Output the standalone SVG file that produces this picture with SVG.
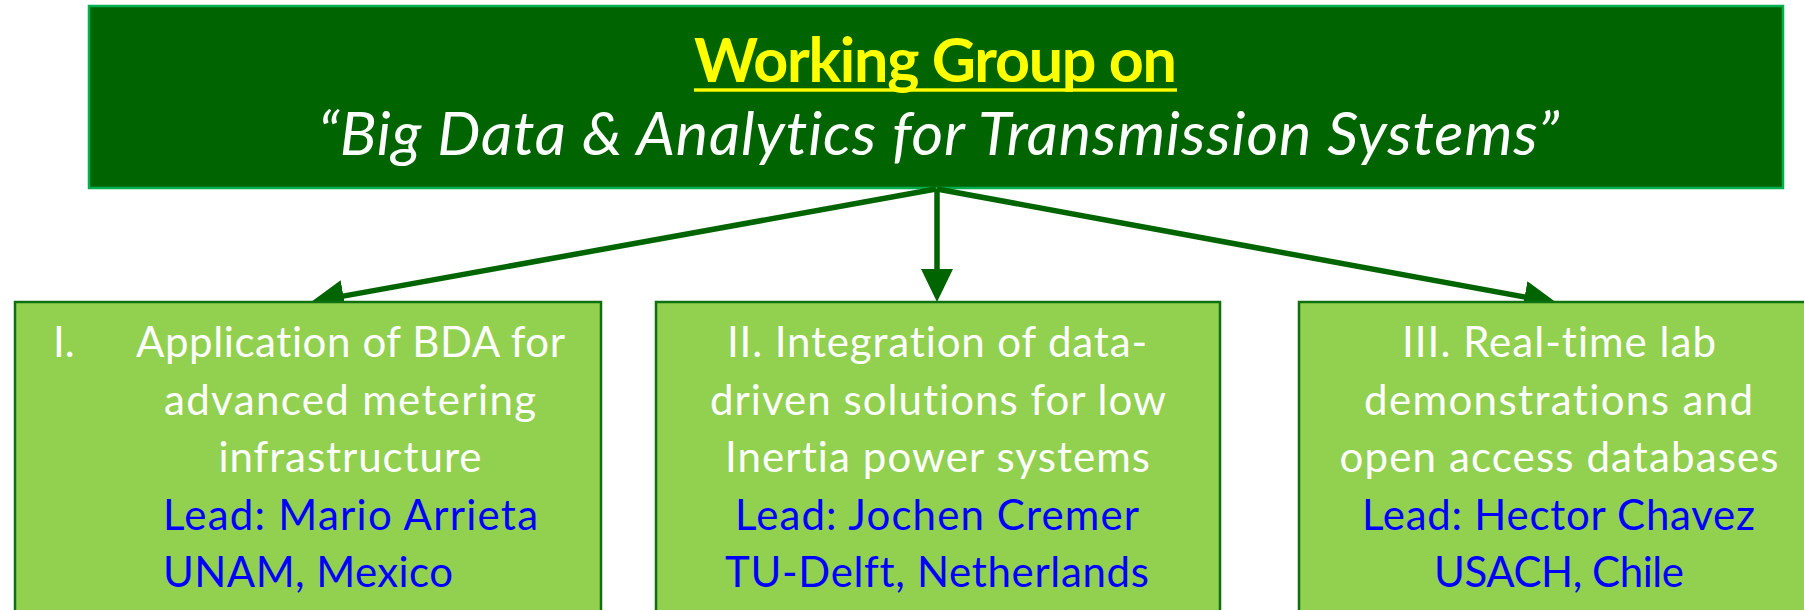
<svg xmlns="http://www.w3.org/2000/svg" width="1804" height="610" viewBox="0 0 1804 610">
  <style>
    text { font-variant-ligatures: none; font-feature-settings: "liga" 0, "clig" 0; }
    .top { fill: #006400; stroke: #00B050; stroke-width: 2.5; }
    .box { fill: #92D050; stroke: #0E700E; stroke-width: 2.5; }
    .title { font-family: Lato, "Liberation Sans", sans-serif; font-weight: bold; font-size: 61px; fill: #FFFF00; }
    .sub { font-family: Lato, "Liberation Sans", sans-serif; font-style: italic; font-size: 61px; fill: #FFFFFF; }
    .w { font-family: Lato, "Liberation Sans", sans-serif; font-size: 42px; fill: #FFFFFF; }
    .b { font-family: Lato, "Liberation Sans", sans-serif; font-size: 42px; fill: #0000FF; }
    .conn { stroke: #006400; stroke-width: 5.5; fill: none; }
  </style>
  <defs>
    <marker id="arrow" markerUnits="userSpaceOnUse" markerWidth="34" markerHeight="34" refX="13" refY="16" orient="auto">
      <path d="M0,0 L33,16 L0,32 Z" fill="#006400"/>
    </marker>
  </defs>

  <g id="node-top">
    <rect class="top" x="89" y="6" width="1694" height="182"/>
    <text class="title" x="935.5" y="82" text-anchor="middle" textLength="483">Working Group on</text>
    <rect x="694" y="88.3" width="483" height="3.4" fill="#FFFF00"/>
    <text class="sub" x="938.5" y="155" text-anchor="middle" textLength="1241">“Big Data &amp; Analytics for Transmission Systems”</text>
  </g>

  <g id="connectors">
    <line class="conn" x1="936" y1="189" x2="330.7" y2="298.4" marker-end="url(#arrow)"/>
    <line class="conn" x1="937" y1="189" x2="937" y2="282" marker-end="url(#arrow)"/>
    <line class="conn" x1="937" y1="189" x2="1537.3" y2="299.4" marker-end="url(#arrow)"/>
  </g>

  <g id="node-1">
    <rect class="box" x="15" y="302" width="586" height="330"/>
    <text class="w" x="53" y="357">I.</text>
    <text class="w" x="136" y="357" textLength="429">Application of BDA for</text>
    <text class="w" x="350" y="415" text-anchor="middle" textLength="372">advanced metering</text>
    <text class="w" x="350" y="472" text-anchor="middle" textLength="263">infrastructure</text>
    <text class="b" x="163" y="530" textLength="375">Lead: Mario Arrieta</text>
    <text class="b" x="163" y="587" textLength="290">UNAM, Mexico</text>
  </g>

  <g id="node-2">
    <rect class="box" x="656" y="302" width="564" height="330"/>
    <text class="w" x="937" y="357" text-anchor="middle" textLength="420">II. Integration of data-</text>
    <text class="w" x="938" y="415" text-anchor="middle" textLength="456">driven solutions for low</text>
    <text class="w" x="937.5" y="472" text-anchor="middle" textLength="425">Inertia power systems</text>
    <text class="b" x="937" y="530" text-anchor="middle" textLength="404">Lead: Jochen Cremer</text>
    <text class="b" x="937" y="587" text-anchor="middle" textLength="424">TU-Delft, Netherlands</text>
  </g>

  <g id="node-3">
    <rect class="box" x="1299" y="302" width="530" height="330"/>
    <text class="w" x="1559" y="357" text-anchor="middle" textLength="314">III. Real-time lab</text>
    <text class="w" x="1558.5" y="415" text-anchor="middle" textLength="389">demonstrations and</text>
    <text class="w" x="1559" y="472" text-anchor="middle" textLength="439">open access databases</text>
    <text class="b" x="1558.5" y="530" text-anchor="middle" textLength="393">Lead: Hector Chavez</text>
    <text class="b" x="1559" y="587" text-anchor="middle" textLength="250">USACH, Chile</text>
  </g>
</svg>
